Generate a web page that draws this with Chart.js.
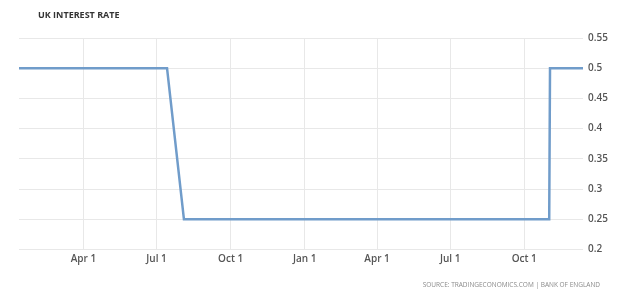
<!DOCTYPE html>
<html>
<head>
<meta charset="utf-8">
<script src="https://cdn.jsdelivr.net/npm/chart.js@4/dist/chart.umd.min.js"></script>
<style>
  html, body { margin: 0; padding: 0; background: #fff; }
  #wrap { position: relative; width: 640px; height: 298px; }
</style>
</head>
<body>
<div id="wrap"><canvas id="chart"></canvas></div>
<script>
// Bank of England bank rate, at MPC decision dates
const rateDates = [
  "2016-01-12", "2016-02-04", "2016-03-17", "2016-04-14", "2016-05-12", "2016-06-16", "2016-07-14",
  "2016-08-04", "2016-09-15", "2016-11-03", "2016-12-15", "2017-02-02", "2017-03-16", "2017-05-11",
  "2017-06-15", "2017-08-03", "2017-09-14", "2017-11-01", "2017-11-02", "2017-12-13",
]
const rateValues = [
  0.5, 0.5, 0.5, 0.5, 0.5, 0.5, 0.5,
  0.25, 0.25, 0.25, 0.25, 0.25, 0.25, 0.25,
  0.25, 0.25, 0.25, 0.25, 0.5, 0.5,
]
const xTickDates = ["2016-04-01", "2016-07-01", "2016-10-01", "2017-01-01", "2017-04-01", "2017-07-01", "2017-10-01"]
const xTickLabels = ["Apr 1", "Jul 1", "Oct 1", "Jan 1", "Apr 1", "Jul 1", "Oct 1"]
const yTickValues = [0.2, 0.25, 0.3, 0.35, 0.4, 0.45, 0.5, 0.55]
const yTickLabels = ["0.2", "0.25", "0.3", "0.35", "0.4", "0.45", "0.5", "0.55"]

const dayOf = (s) => Date.parse(s + "T00:00:00Z") / 86400000
const points = rateDates.map((d, i) => ({ x: dayOf(d), y: rateValues[i] }))

const labelFont = { family: "'Open Sans', sans-serif", size: 10, weight: "600" }
const gridColor = "#e8e8e8"

const textPlugin = {
  id: "textPlugin",
  afterDraw(chart) {
    const ctx = chart.ctx
    ctx.save()
    ctx.textBaseline = "middle"
    ctx.textAlign = "left"
    ctx.fillStyle = "#333"
    ctx.font = "bold 9px 'Open Sans', sans-serif"
    ctx.fillText("UK INTEREST RATE", 38, 15)
    ctx.textAlign = "right"
    ctx.fillStyle = "#8a8a8a"
    ctx.font = "6.5px 'Open Sans', sans-serif"
    ctx.fillText("SOURCE: TRADINGECONOMICS.COM | BANK OF ENGLAND", 600, 285)
    ctx.restore()
  },
}

new Chart(document.getElementById("chart"), {
  type: "line",
  data: {
    datasets: [{
      data: points,
      borderColor: "#709cca",
      borderWidth: 2.5,
      pointRadius: 0,
      tension: 0,
      fill: false,
    }],
  },
  options: {
    responsive: true,
    maintainAspectRatio: false,
    animation: false,
    layout: { padding: { left: 19, top: 38, right: 0, bottom: 0 } },
    plugins: { legend: { display: false }, tooltip: { enabled: false } },
    scales: {
      x: {
        type: "linear",
        min: dayOf(rateDates[0]),
        max: dayOf(rateDates[rateDates.length - 1]),
        afterBuildTicks: (axis) => { axis.ticks = xTickDates.map((d) => ({ value: dayOf(d) })) },
        afterFit: (axis) => { axis.height = 48.5 },
        ticks: {
          autoSkip: false,
          maxRotation: 0,
          padding: 4,
          color: "#555",
          font: labelFont,
          callback: (value, index) => xTickLabels[index],
        },
        grid: { color: gridColor, drawTicks: false },
        border: { display: false },
      },
      y: {
        position: "right",
        min: yTickValues[0],
        max: yTickValues[yTickValues.length - 1],
        afterBuildTicks: (axis) => { axis.ticks = yTickValues.map((v) => ({ value: v })) },
        afterFit: (axis) => { axis.width = 57 },
        ticks: {
          padding: 5,
          color: "#555",
          font: labelFont,
          callback: (value, index) => yTickLabels[index],
        },
        grid: { color: gridColor, drawTicks: false },
        border: { display: false },
      },
    },
  },
  plugins: [textPlugin],
})
</script>
</body>
</html>
